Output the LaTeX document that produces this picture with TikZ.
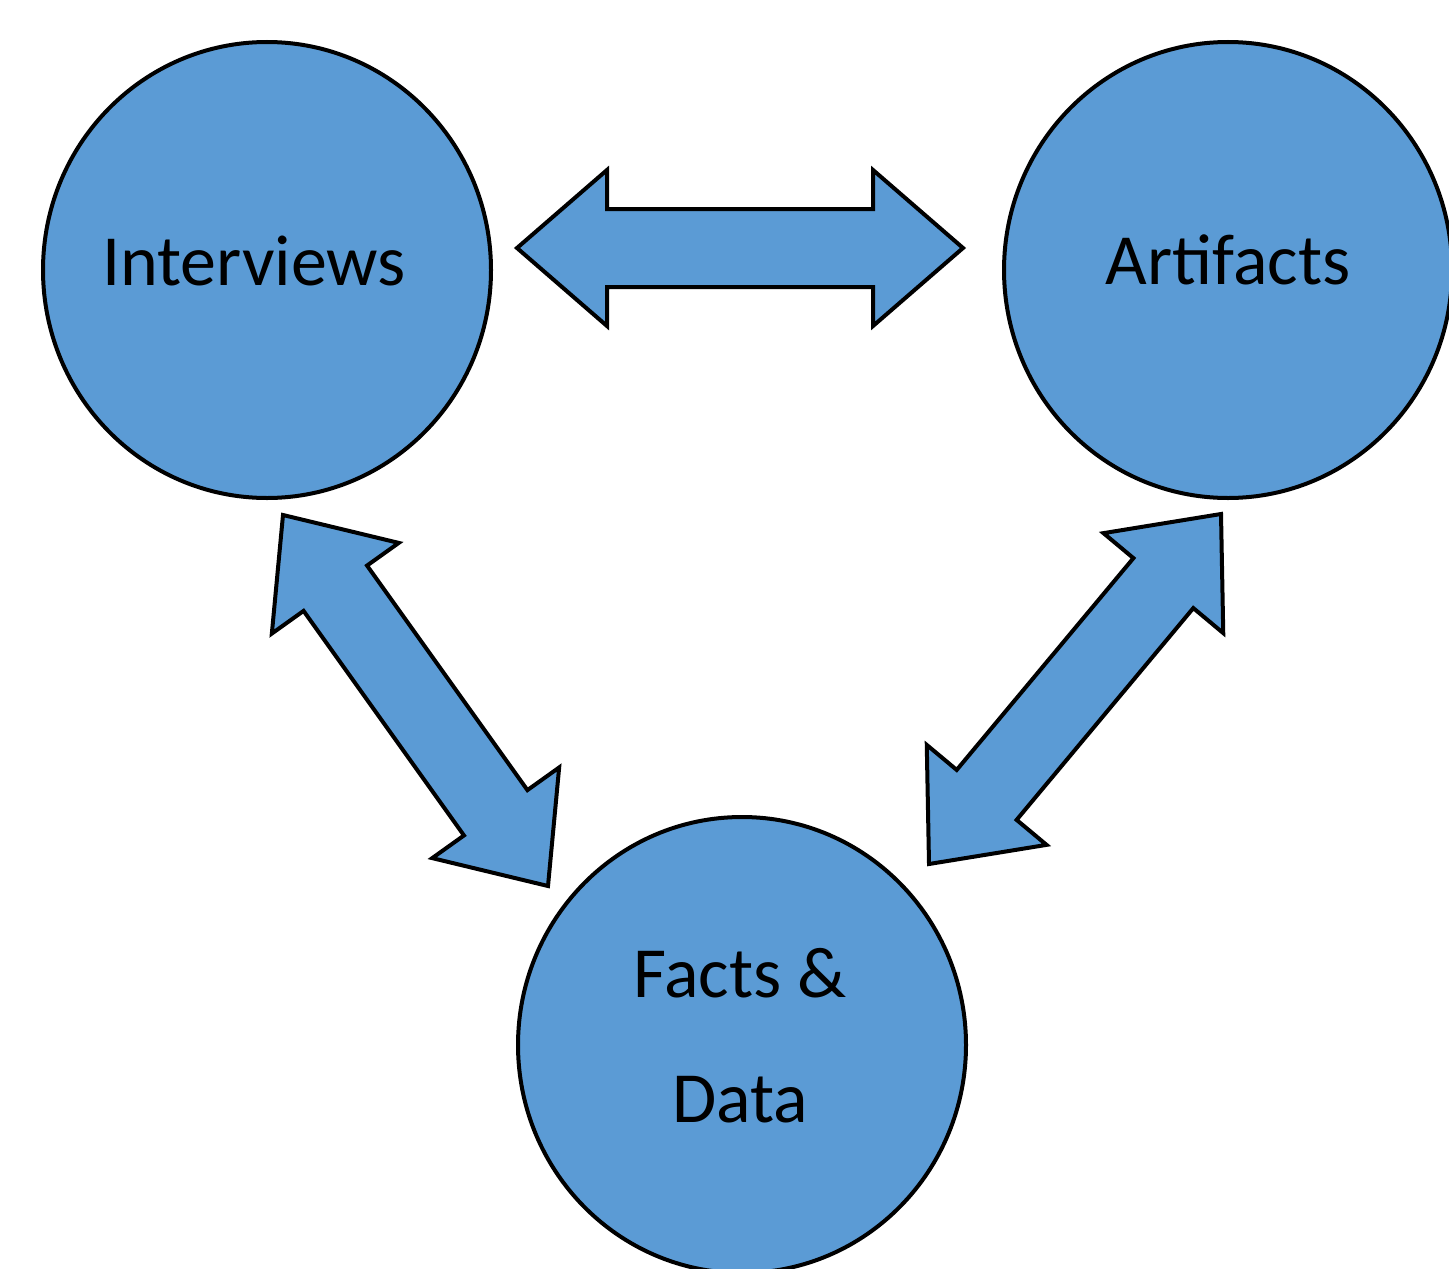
\documentclass[tikz,border=0pt]{standalone}
\usepackage{fontspec}
\setmainfont{Carlito}
\usepackage{tikz}
\usetikzlibrary{shapes.geometric, calc}

\definecolor{topicblue}{HTML}{5B9BD5}

\tikzset{
  topic/.style={ellipse, draw=black, line width=2pt, fill=topicblue, inner sep=0pt,
    minimum width=224pt, minimum height=228pt},
  topiclabel/.style={align=center, inner sep=0pt, font=\fontsize{36}{62.5}\selectfont},
  fatarrow/.style={draw=black, line width=2pt, fill=topicblue, line join=miter}
}

% double block arrow between two named tips
\newcommand{\headlen}{45pt}
\newcommand{\headw}{39pt}
\newcommand{\shaftw}{19.5pt}
\newcommand{\fatarrow}[2]{%
  \coordinate (ha) at ($(#1)!\headlen!(#2)$);
  \coordinate (hb) at ($(#2)!\headlen!(#1)$);
  \draw[fatarrow] (#1) -- ($(ha)!\headw!90:(#2)$) -- ($(ha)!\shaftw!90:(#2)$)
    -- ($(hb)!\shaftw!-90:(#1)$) -- ($(hb)!\headw!-90:(#1)$) -- (#2)
    -- ($(hb)!\headw!90:(#1)$) -- ($(hb)!\shaftw!90:(#1)$)
    -- ($(ha)!\shaftw!-90:(#2)$) -- ($(ha)!\headw!-90:(#2)$) -- cycle;}

\begin{document}
\begin{tikzpicture}[x=0.5pt, y=-0.5pt]
  \useasboundingbox (0,0) rectangle (1449,1268);

  % the three sources
  \node[topic] (interviews) at (267,270) {};
  \node[topic] (artifacts) at (1228,270) {};
  \node[topic] (facts) at (742,1045) {};
  \node[topiclabel] (interviewstext) at ([shift={(-13,-9)}]interviews.center) {Interviews};
  \node[topiclabel] (artifactstext) at ([shift={(0,-10)}]artifacts.center) {Artifacts};
  \node[topiclabel] (factstext) at ([shift={(-2,-9)}]facts.center) {Facts \&\\Data};

  % arrow tips
  \coordinate (ia) at (517,248);
  \coordinate (ai) at (963,248);
  \coordinate (if) at (283,515);
  \coordinate (fi) at (548,886);
  \coordinate (af) at (1221,514);
  \coordinate (fa) at (929,864);

  \fatarrow{ia}{ai}
  \fatarrow{if}{fi}
  \fatarrow{af}{fa}
\end{tikzpicture}
\end{document}
